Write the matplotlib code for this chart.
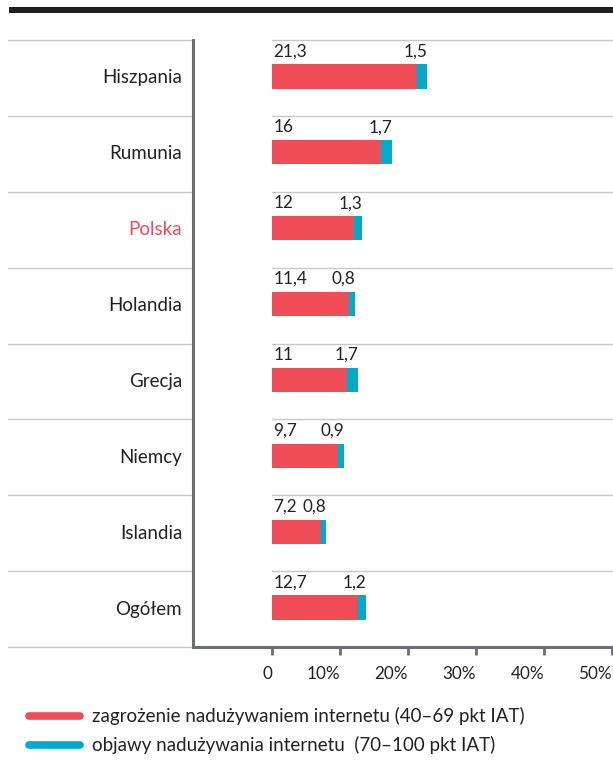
import matplotlib
matplotlib.use("Agg")
import matplotlib.pyplot as plt
from matplotlib.lines import Line2D
import numpy as np

plt.rcParams['font.family'] = ['Lato', 'DejaVu Sans']

categories = ["Hiszpania", "Rumunia", "Polska", "Holandia", "Grecja", "Niemcy", "Islandia", "Ogółem"]
risk = [21.3, 16, 12, 11.4, 11, 9.7, 7.2, 12.7]
symptoms = [1.5, 1.7, 1.3, 0.8, 1.7, 0.9, 0.8, 1.2]
risk_labels = ["21,3", "16", "12", "11,4", "11", "9,7", "7,2", "12,7"]
symptom_labels = ["1,5", "1,7", "1,3", "0,8", "1,7", "0,9", "0,8", "1,2"]
ticks = [0, 10, 20, 30, 40, 50]
tick_labels = ["0", "10%", "20%", "30%", "40%", "50%"]
legend_labels = ["zagrożenie nadużywaniem internetu (40–69 pkt IAT)",
                 "objawy nadużywania internetu  (70–100 pkt IAT)"]

RED = "#EF4C57"
BLUE = "#00AACD"
GREY = "#6d6e71"
GRID = "#c8c8c8"
TXT = "#222222"

W, H = 613, 765
fig = plt.figure(figsize=(W / 100, H / 100), dpi=100)
ax = fig.add_axes([8 / W, (H - 647) / H, (612 - 8) / W, (647 - 40) / H])

XMIN, XMAX = -38.8, 50.0
SPINE_X = -11.57
ax.set_xlim(XMIN, XMAX)
n = len(categories)
ax.set_ylim(n - 0.5, -0.5)
y = np.arange(n) - 0.02

bh = 0.32
ax.barh(y, risk, height=bh, color=RED, edgecolor='none', zorder=3)
ax.barh(y, symptoms, left=risk, height=bh, color=BLUE, edgecolor='none', zorder=3)

# separators
for b in np.arange(-0.5, n + 0.5, 1.0):
    ax.plot([XMIN, SPINE_X], [b, b], color=GRID, lw=1.0, zorder=1, clip_on=False)
    ax.plot([0, XMAX], [b, b], color=GRID, lw=1.0, zorder=1, clip_on=False)

for i in range(n):
    ax.text(0.2, y[i] - 0.33, risk_labels[i], ha='left', va='center', fontsize=12.3, color=TXT)
    ax.text(risk[i] + symptoms[i], y[i] - 0.33, symptom_labels[i], ha='right', va='center',
            fontsize=12.3, color=TXT)
    ax.text(-13.2, i, categories[i], ha='right', va='center', fontsize=13.5,
            color=RED if categories[i] == "Polska" else TXT)

ax.set_yticks([])
ax.set_xticks(ticks)
ax.set_xticklabels(tick_labels, fontsize=12.3, color=TXT, ha='right')
ax.tick_params(axis='x', direction='out', length=5.5, width=2, color=GREY, pad=8)

for s in ['top', 'right']:
    ax.spines[s].set_visible(False)
ax.spines['left'].set_position(('data', SPINE_X))
ax.spines['left'].set_color(GREY)
ax.spines['left'].set_linewidth(2.2)
ax.spines['bottom'].set_bounds(SPINE_X, XMAX)
ax.spines['bottom'].set_color(GREY)
ax.spines['bottom'].set_linewidth(2.2)
ax.patch.set_visible(False)

# top black bar
fig.add_artist(plt.Rectangle((9 / W, (H - 13) / H), (W - 9) / W, 6 / H,
                             transform=fig.transFigure, color="#231f20", lw=0))

# legend
for k, (lab, col) in enumerate(zip(legend_labels, [RED, BLUE])):
    yy = (H - (716 + 29 * k)) / H
    fig.add_artist(Line2D([29 / W, 80 / W], [yy, yy], transform=fig.transFigure,
                          color=col, lw=5.5, solid_capstyle='round'))
    fig.text(92 / W, yy, lab, ha='left', va='center', fontsize=13.5, color=TXT)

fig.savefig("out.png", dpi=100)
